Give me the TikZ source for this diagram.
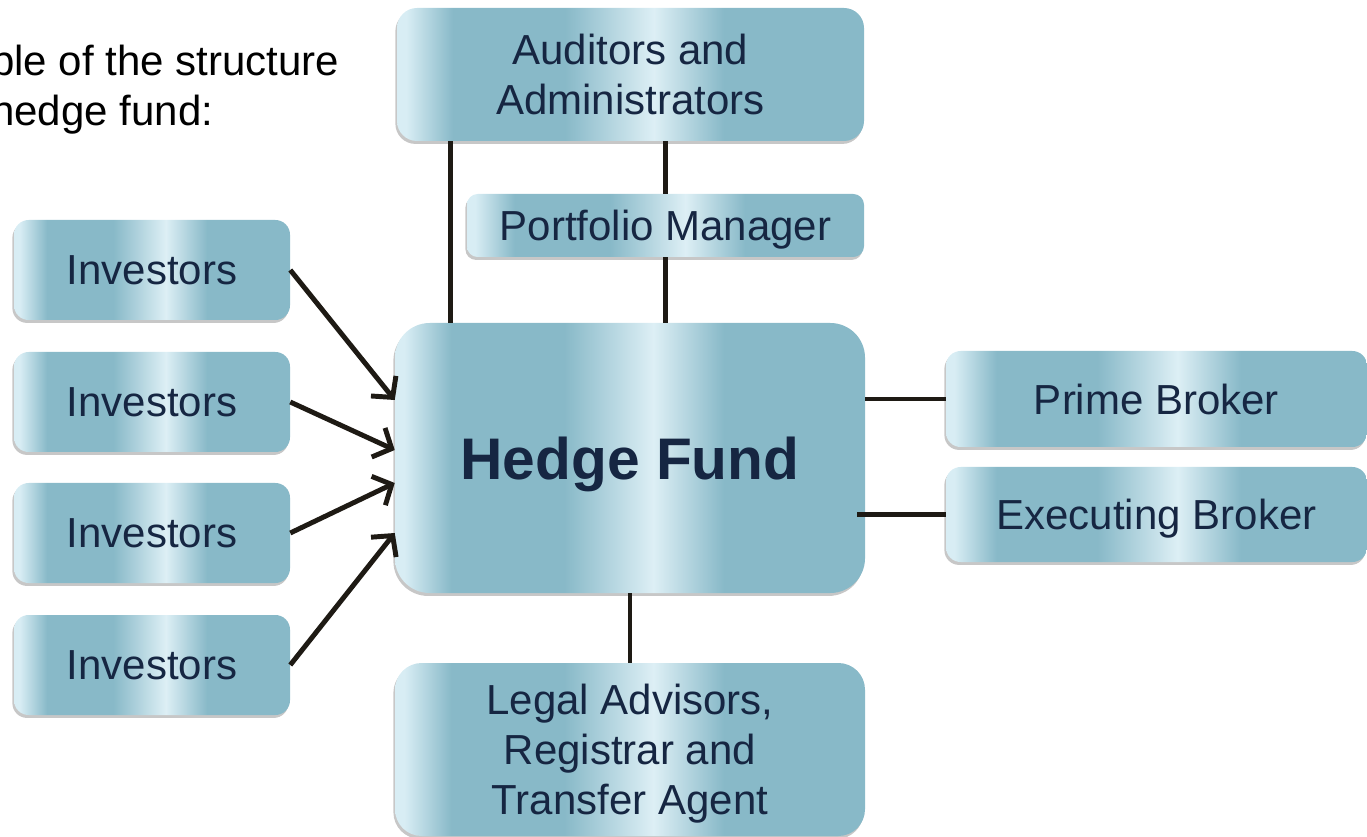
\documentclass[tikz,border=0pt]{standalone}
\usepackage{fontspec}
\setmainfont{Liberation Sans}
\usetikzlibrary{arrows.meta,shadows}
\definecolor{boxlight}{RGB}{216,237,244}
\definecolor{boxdark}{RGB}{136,185,200}
\definecolor{boxpeak}{RGB}{221,239,245}
\definecolor{boxtext}{RGB}{22,38,66}
\definecolor{linkcol}{RGB}{30,26,20}
\pgfdeclarehorizontalshading{fundshade}{100bp}{color(0bp)=(boxlight); color(25bp)=(boxlight); color(26bp)=(boxlight); color(31bp)=(boxdark); color(43bp)=(boxdark); color(52.5bp)=(boxpeak); color(60bp)=(boxdark); color(75bp)=(boxdark); color(100bp)=(boxdark)}
\tikzset{
  fundbox/.style={shading=fundshade, rounded corners=#1, inner sep=0pt, text=boxtext, align=center, text depth=0pt,
    font=\fontsize{31.5pt}{37.5pt}\selectfont,
    drop shadow={shadow xshift=-1.2pt, shadow yshift=-2.2pt, opacity=.22, fill=black}},
  fundbox/.default=11pt,
  link/.style={draw=linkcol, line width=3.7pt},
  feed/.style={link, -{Straight Barb[length=11pt,width=24pt]}}
}

\begin{document}
\begin{tikzpicture}[x=0.75pt,y=-0.75pt]
\useasboundingbox (0,0) rectangle (1367,837);
\clip (0,0) rectangle (1367,837);

\node [anchor=base west, inner sep=0pt, font=\fontsize{31.5pt}{37.5pt}\selectfont] (title1) at (-9,76) {ple of the structure};
\node [anchor=base west, inner sep=0pt, font=\fontsize{31.5pt}{37.5pt}\selectfont] (title2) at (-9,126) {hedge fund:};

\node [fundbox=15pt, minimum width=350.25pt, minimum height=99.75pt] (aud) at (630.5,74.5) {Auditors and\\Administrators};
\node [fundbox=8pt, minimum width=297.75pt, minimum height=47.25pt] (pm) at (665.5,225.5) {Portfolio Manager};
\foreach \i/\y in {1/270,2/402,3/533,4/665}
  \node [fundbox, minimum width=207pt, minimum height=75pt] (inv\i) at (152,\y) {Investors};
\node [fundbox=26pt, minimum width=352.5pt, minimum height=202.5pt, font=\fontsize{44pt}{50pt}\selectfont\bfseries] (hf) at (630,458) {Hedge Fund};
\node [fundbox, minimum width=315.75pt, minimum height=72pt] (pb) at (1156.5,399) {Prime Broker};
\node [fundbox, minimum width=315.75pt, minimum height=71.25pt] (eb) at (1156.5,514.5) {Executing Broker};
\node [fundbox=20pt, minimum width=352.5pt, minimum height=129.75pt] (legal) at (630,749.5) {Legal Advisors,\\Registrar and\\Transfer Agent};

\coordinate (audfoot) at ([xshift=40.5pt]aud.south west);
\draw [link] (audfoot) -- (audfoot |- hf.north);
\draw [link] (pm.north |- aud.south) -- (pm.north);
\draw [link] (pm.south) -- (pm.south |- hf.north);
\draw [link] (pb.west -| hf.east) -- (pb.west);
\draw [link] ([xshift=-6pt]eb.west -| hf.east) -- (eb.west);
\draw [link] (hf.south) -- (legal.north);
\foreach \i/\dy in {1/43.5pt,2/6pt,3/-18.75pt,4/-56.25pt}
  \draw [feed] (inv\i.east) -- ([yshift=\dy]hf.west);
\end{tikzpicture}
\end{document}
